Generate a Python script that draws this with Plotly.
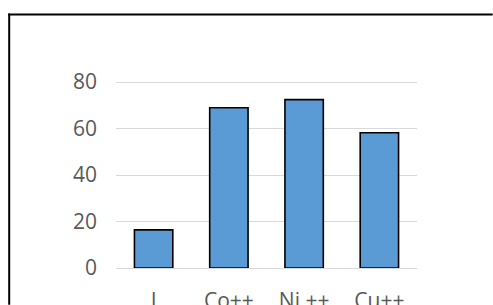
import plotly.graph_objects as go

categories = ["I", "Co++", "Ni ++", "Cu++"]
values = [16.4, 68.9, 72.4, 58.2]
y_ticks = [0, 20, 40, 60, 80]

W, H = 493, 305
L, R, T, B = 116.3, 417.3, 80.0, 268.3
pw, ph = R - L, B - T
ymax = 80 * ph / (B - 82.0)

fig = go.Figure(go.Bar(
    x=categories, y=values, width=0.51,
    marker=dict(color="#5b9bd5", line=dict(color="#000000", width=1.6)),
))

def px_to_paper_x(px):
    return (px - L) / pw

def px_to_paper_y(py):
    return (B - py) / ph

# outer chart-area border (only its left and top edges are inside the picture)
fig.add_shape(type="line", xref="paper", yref="paper",
              x0=px_to_paper_x(9.5), x1=px_to_paper_x(9.5),
              y0=px_to_paper_y(H), y1=px_to_paper_y(13.5),
              line=dict(color="#000000", width=2), layer="below")
fig.add_shape(type="line", xref="paper", yref="paper",
              x0=px_to_paper_x(8.5), x1=px_to_paper_x(W),
              y0=px_to_paper_y(14.5), y1=px_to_paper_y(14.5),
              line=dict(color="#000000", width=2), layer="below")

fig.update_layout(
    template="none",
    width=W, height=H,
    margin=dict(l=L, r=W - R, t=T, b=H - B, pad=0),
    paper_bgcolor="white", plot_bgcolor="white",
    showlegend=False,
    font=dict(family="Open Sans", size=21, color="#595959"),
    xaxis=dict(showgrid=False, showline=False, zeroline=False, ticks="",
               ticklabelstandoff=18, automargin=False,
               tickfont=dict(size=21, color="#595959")),
    yaxis=dict(range=[0, ymax], tickvals=y_ticks, showgrid=True,
               gridcolor="#d9d9d9", gridwidth=1.3, zeroline=True,
               zerolinecolor="#d9d9d9", zerolinewidth=1.3, showline=False,
               ticks="", ticklabelstandoff=18, automargin=False,
               tickfont=dict(size=21, color="#595959")),
    bargap=0.49,
)

fig.write_html("out.html", config={"displayModeBar": False},
               post_script=("document.documentElement.style.overflow='hidden';"
                            "document.body.style.margin='0';"
                            "document.body.style.overflow='hidden';"))
